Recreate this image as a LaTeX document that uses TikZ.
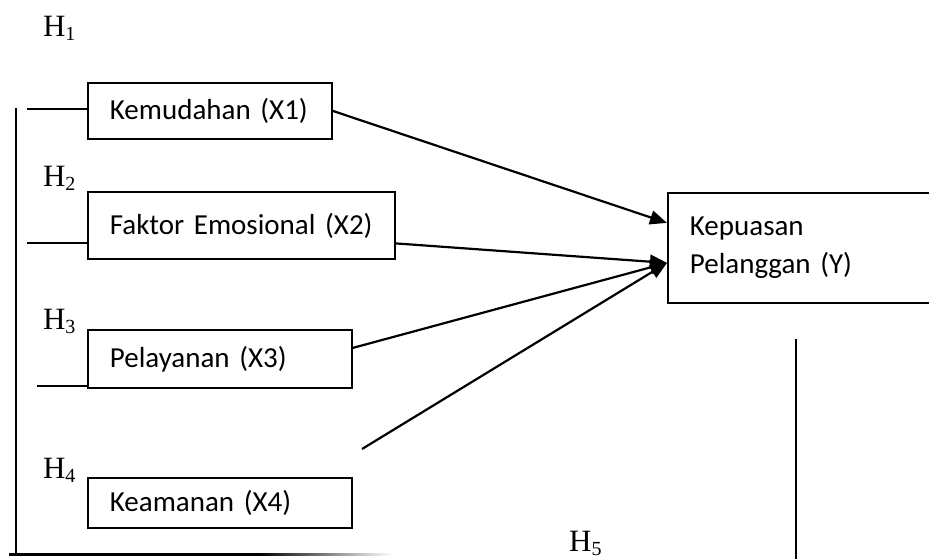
\documentclass[tikz,border=0pt]{standalone}
\usepackage{fontspec}
\setmainfont{Carlito}
\newfontfamily\hfont{Liberation Serif}
\usetikzlibrary{arrows.meta}
\newcommand{\hyp}[1]{{\hfont\fontsize{15.5}{17}\selectfont H\raisebox{-2pt}{\fontsize{10}{11}\selectfont #1}}}

\begin{document}
\begin{tikzpicture}[
            x = 0.5pt, y = -0.5pt, % pixel grid of the scan
            -{Triangle[length = 8.5pt, width = 7pt]},
            line width = 1.1pt
        ]

        \tikzstyle{box}=[
            draw = black,
            line width = 0.9pt,
            anchor = north west,
            align = left,
            inner xsep = 11pt,
            inner ysep = 0pt,
            font = \fontsize{14.5}{19}\selectfont
        ]
        \tikzstyle{hlab}=[anchor = base west, inner sep = 0pt]

        \clip (0, 0) rectangle (929, 558);

        \node[box, minimum width = 122pt, minimum height = 28pt, text width = 100pt] (kemu) [at={(87, 82)}] {Kemudahan (X1)};
        \node[box, minimum width = 153.5pt, minimum height = 33.5pt, text width = 131.5pt] (emo) [at={(87, 191)}] {Faktor Emosional (X2)};
        \node[box, minimum width = 132pt, minimum height = 29pt, text width = 110pt] (pel) [at={(87, 329)}] {Pelayanan (X3)};
        \node[box, minimum width = 132pt, minimum height = 25pt, text width = 110pt] (aman) [at={(87, 477)}] {Keamanan (X4)};
        \node[box, minimum width = 150pt, minimum height = 55pt, text width = 128pt] (puas) [at={(667, 192)}] {Kepuasan\\Pelanggan (Y)};

        \node[hlab] (h1) [at={(42, 36)}] {\hyp{1}};
        \node[hlab] (h2) [at={(42, 186)}] {\hyp{2}};
        \node[hlab] (h3) [at={(42, 329)}] {\hyp{3}};
        \node[hlab] (h4) [at={(42, 478)}] {\hyp{4}};
        \node[hlab] (h5) [at={(568, 551)}] {\hyp{5}};

        \coordinate (inA) at ([yshift = 12.5pt]puas.west);
        \coordinate (inB) at ([yshift = -7.5pt]puas.west);
        \coordinate (startD) at (362, 449);

        \path (kemu.east) edge (inA);
        \path ([yshift = -9pt]emo.east) edge (inB);
        \path ([yshift = 5.5pt]pel.east) edge (inB);
        \path (startD) edge (inB);

        % lines on the left
        \coordinate (topL) at (16, 108);
        \coordinate (botL) at (16, 554);
        \draw[-] ([yshift = 1pt]kemu.west) -- ++(-60, 0);
        \draw[-] ([yshift = -8.75pt]emo.west) -- ++(-60, 0);
        \draw[-] ([yshift = 1.5pt]pel.south west) -- ++(-50, 0);
        \draw[-] (topL) -- (botL);
        \fill (9, 553) rectangle (260, 555.5);
        \shade[left color = black, right color = white] (259, 553) rectangle (392, 555.5);

        % line on the right
        \coordinate (topR) at (796, 339);
        \coordinate (botR) at (796, 560);
        \draw[-] (topR) -- (botR);
    \end{tikzpicture}
\end{document}
